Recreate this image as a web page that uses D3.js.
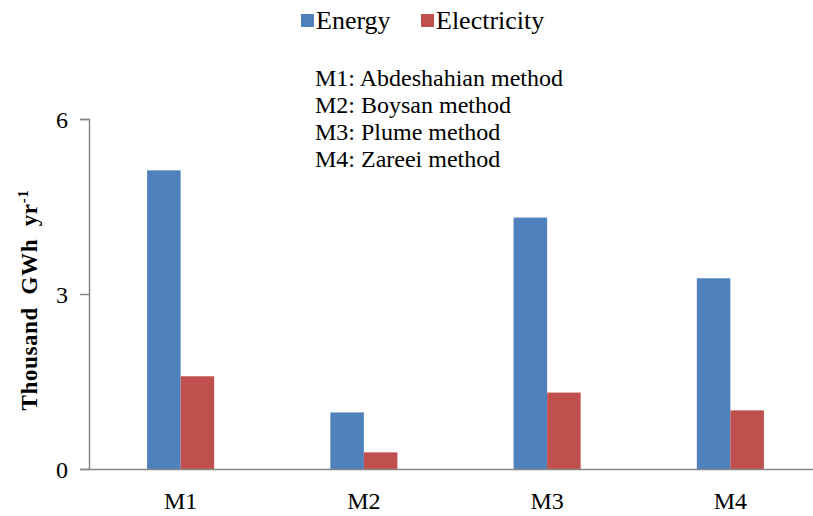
<!DOCTYPE html>
<html>
<head>
<meta charset="utf-8">
<script src="https://cdn.jsdelivr.net/npm/d3@7"></script>
<style>
  html, body { margin: 0; padding: 0; background: #fff; }
  svg { display: block; }
</style>
</head>
<body>
<svg id="chart" width="813" height="516"></svg>
<script>
const categories = ["M1", "M2", "M3", "M4"];
const seriesNames = ["Energy", "Electricity"];
const energy = [5.12, 0.97, 4.31, 3.27];
const electricity = [1.59, 0.285, 1.31, 1.005];
const yTicks = [0, 3, 6];
const notes = ["M1: Abdeshahian method", "M2: Boysan method", "M3: Plume method", "M4: Zareei method"];
const colors = ["#4F81BD", "#C0504D"];
const FONT = "'Liberation Serif', 'DejaVu Serif', serif";

const svg = d3.select("#chart");
const plotLeft = 89, plotRight = 822, plotTop = 119, plotBottom = 469;

const x = d3.scaleBand().domain(categories).range([plotLeft, plotRight])
  .paddingInner(0.634).paddingOuter(0.317);
const x1 = d3.scaleBand().domain(seriesNames).range([0, x.bandwidth()]);
const y = d3.scaleLinear().domain([0, 6]).range([plotBottom, plotTop]);

const data = categories.map((c, i) => ({ cat: c, vals: [energy[i], electricity[i]] }));

// bars
const g = svg.append("g");
g.selectAll("g.grp").data(data).join("g")
  .attr("class", "grp")
  .attr("transform", d => `translate(${x(d.cat)},0)`)
  .selectAll("rect").data(d => d.vals.map((v, k) => ({ v, k })))
  .join("rect")
  .attr("x", d => x1(seriesNames[d.k]))
  .attr("y", d => y(d.v))
  .attr("width", x1.bandwidth())
  .attr("height", d => y(0) - y(d.v))
  .attr("fill", d => colors[d.k]);

// y axis
const yAxis = d3.axisLeft(y).tickValues(yTicks).tickSize(9).tickPadding(12).tickFormat(d3.format("d"));
const ya = svg.append("g").attr("transform", `translate(${plotLeft},0)`).call(yAxis);
ya.attr("font-family", FONT).attr("font-size", 24);
ya.select(".domain").attr("stroke", "#868686").attr("stroke-width", 1.5);
ya.selectAll(".tick line").attr("stroke", "#868686").attr("stroke-width", 1.5);
ya.selectAll(".tick text").attr("fill", "#000").attr("dy", "0.34em");

// x axis
const xAxis = d3.axisBottom(x).tickSize(0).tickPadding(23);
const xa = svg.append("g").attr("transform", `translate(0,${plotBottom})`).call(xAxis);
xa.attr("font-family", FONT).attr("font-size", 24);
xa.select(".domain").attr("stroke", "#868686").attr("stroke-width", 1.5);
xa.selectAll(".tick text").attr("fill", "#000");

// y label
const yl = svg.append("text")
  .attr("transform", "translate(37,300) rotate(-90)")
  .attr("text-anchor", "middle")
  .attr("font-family", FONT)
  .attr("font-size", 23).attr("font-weight", "bold")
  .attr("letter-spacing", 0.6);
yl.append("tspan").text("Thousand\u00a0\u00a0GWh\u00a0\u00a0yr");
yl.append("tspan").attr("dy", -9).attr("font-size", 15).text("-1");

// legend
const leg = svg.append("g");
const legX = [301, 421];
seriesNames.forEach((n, i) => {
  leg.append("rect").attr("x", legX[i]).attr("y", 14).attr("width", 13).attr("height", 13).attr("fill", colors[i]);
  leg.append("text").attr("x", legX[i] + 15).attr("y", 29)
    .attr("font-family", FONT).attr("font-size", 26).attr("fill", "#000").text(n);
});

// notes
svg.append("g").selectAll("text").data(notes).join("text")
  .attr("x", 315).attr("y", (d, i) => 86 + i * 27)
  .attr("font-family", FONT).attr("font-size", 24).attr("fill", "#000")
  .text(d => d);
</script>
</body>
</html>
